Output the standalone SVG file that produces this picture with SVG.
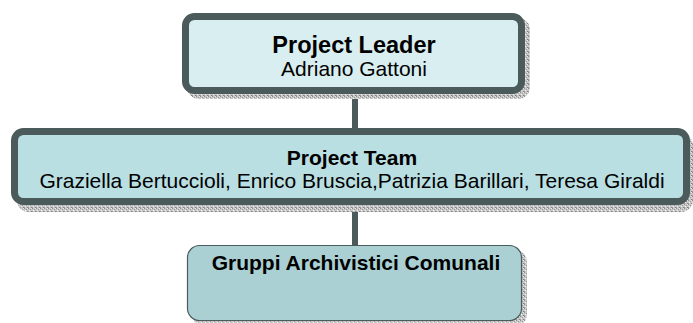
<svg xmlns="http://www.w3.org/2000/svg" width="693" height="323" viewBox="0 0 693 323">
<defs>
<pattern id="dots" width="4" height="4" patternUnits="userSpaceOnUse">
<rect width="4" height="4" fill="#c8c8c8"/>
<rect x="0" y="0" width="1" height="1" fill="#8a8a8a"/>
<rect x="2" y="1" width="1" height="1" fill="#9a9a9a"/>
<rect x="1" y="2" width="1" height="1" fill="#f0f0f0"/>
<rect x="3" y="3" width="1" height="1" fill="#808080"/>
<rect x="3" y="0" width="1" height="1" fill="#e8e8e8"/>
<rect x="0" y="3" width="1" height="1" fill="#a0a0a0"/>
</pattern>
<style>
.shadow{fill:url(#dots)}
.thick{stroke:#4b5b5b;stroke-width:7}
.thin{stroke:#4b5b5b;stroke-width:1.2}
.conn{stroke:#4b5b5b;stroke-width:6;fill:none}
text{font-family:"Liberation Sans",Arial,sans-serif;font-size:21px;fill:#000;text-anchor:middle}
.b{font-weight:bold}
</style>
</defs>
<g id="connectors">
<line class="conn" x1="355" y1="94" x2="355" y2="128"/>
<line class="conn" x1="355" y1="205" x2="355" y2="245"/>
</g>
<g id="leader">
<rect class="shadow" x="187" y="18" width="343" height="81" rx="12"/>
<rect class="thick" x="185.5" y="16.5" width="336" height="74" rx="9" fill="#d9eef0"/>
<text class="b" x="354" y="53" style="font-size:23.5px">Project Leader</text>
<text x="354" y="76">Adriano Gattoni</text>
</g>
<g id="team">
<rect class="shadow" x="17" y="134" width="676" height="78" rx="12"/>
<rect class="thick" x="14.5" y="131.5" width="672" height="70" rx="9" fill="#b9dfe2"/>
<text class="b" x="352" y="165">Project Team</text>
<text x="352" y="188">Graziella Bertuccioli, Enrico Bruscia,Patrizia Barillari, Teresa Giraldi</text>
</g>
<g id="gruppi">
<rect class="shadow" x="192" y="250" width="335" height="76" rx="12"/>
<rect class="thin" x="187.5" y="245.5" width="334" height="75" rx="12" fill="#aad0d3"/>
<text class="b" x="356" y="270">Gruppi Archivistici Comunali</text>
</g>
</svg>
